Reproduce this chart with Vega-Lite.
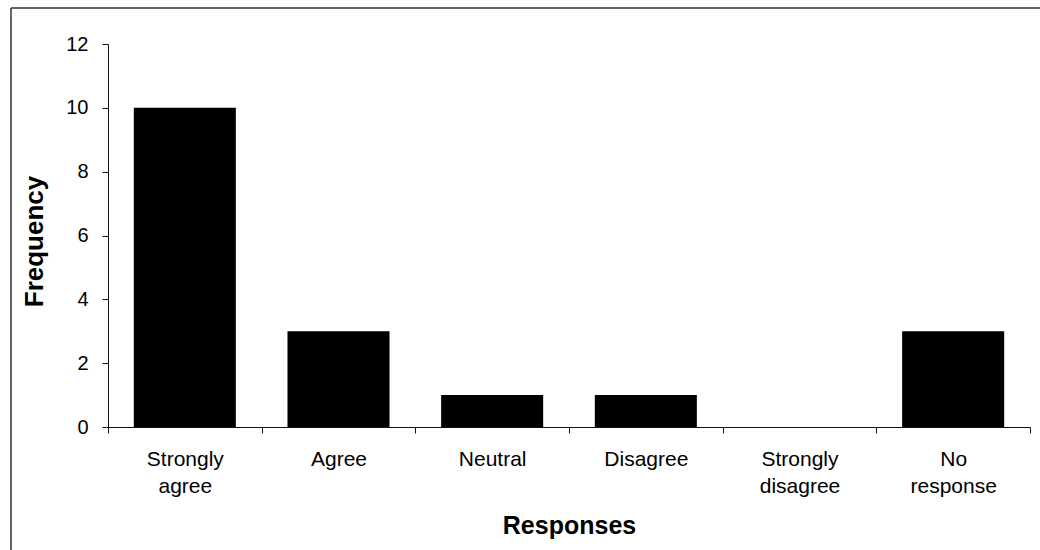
{
  "$schema": "https://vega.github.io/schema/vega-lite/v6.json",
  "autosize": "none",
  "padding": {"left": 11, "top": 8, "right": 0, "bottom": 0},
  "width": 1029,
  "height": 542,
  "background": "white",
  "config": {
    "view": {"stroke": "#333333", "strokeWidth": 1.5, "strokeDash": [1029, 1571, 542, 0]},
    "font": "Liberation Sans",
    "axis": {
      "domainColor": "#111111",
      "tickColor": "#111111",
      "labelColor": "black",
      "titleColor": "black",
      "labelFont": "Liberation Sans",
      "titleFont": "Liberation Sans",
      "grid": false
    }
  },
  "data": {
    "values": [
      {"response": "Strongly agree", "frequency": 10},
      {"response": "Agree", "frequency": 3},
      {"response": "Neutral", "frequency": 1},
      {"response": "Disagree", "frequency": 1},
      {"response": "Strongly disagree", "frequency": 0},
      {"response": "No response", "frequency": 3}
    ]
  },
  "mark": {"type": "bar", "color": "black", "width": {"band": 0.664}},
  "encoding": {
    "x": {
      "field": "response",
      "type": "nominal",
      "sort": null,
      "scale": {"range": [97, 1019], "paddingInner": 0, "paddingOuter": 0},
      "axis": {
        "title": "Responses",
        "offset": -123,
        "labelAngle": 0,
        "labelExpr": "split(datum.label, ' ')",
        "labelFontSize": 21,
        "labelLineHeight": 27,
        "labelPadding": 15,
        "labelLimit": 300,
        "tickBand": "extent",
        "tickSize": 6,
        "titleFontSize": 25,
        "titleFontWeight": "bold",
        "titleBaseline": "alphabetic",
        "titleY": 106
      }
    },
    "y": {
      "field": "frequency",
      "type": "quantitative",
      "scale": {"domain": [0, 12], "range": [419, 36], "nice": false},
      "axis": {
        "title": "Frequency",
        "offset": -97,
        "values": [0, 2, 4, 6, 8, 10, 12],
        "labelFontSize": 20,
        "labelPadding": 14,
        "tickSize": 6,
        "titleFontSize": 26,
        "titleFontWeight": "bold",
        "titleBaseline": "alphabetic",
        "titleX": -66,
        "titleY": 233
      }
    }
  }
}
